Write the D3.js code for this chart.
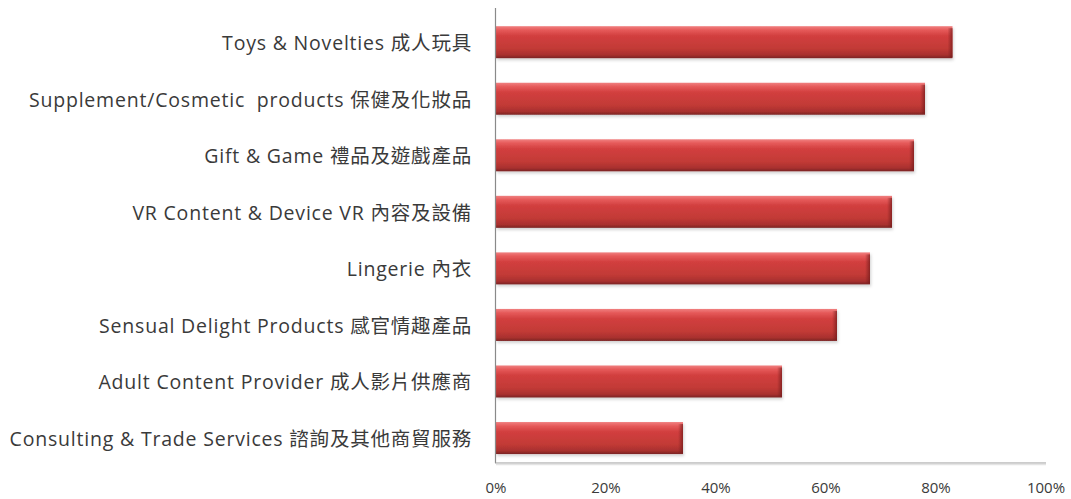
<!DOCTYPE html>
<html><head><meta charset="utf-8">
<script src="https://cdn.jsdelivr.net/npm/d3@7"></script>
<style>
html,body{margin:0;padding:0;background:#fff;}
svg{display:block;}
</style></head>
<body>
<svg id="chart" width="1071" height="499"></svg>
<script>
const categories = [
  "Toys & Novelties 成人玩具",
  "Supplement/Cosmetic  products 保健及化妝品",
  "Gift & Game 禮品及遊戲產品",
  "VR Content & Device VR 內容及設備",
  "Lingerie 內衣",
  "Sensual Delight Products 感官情趣產品",
  "Adult Content Provider 成人影片供應商",
  "Consulting & Trade Services 諮詢及其他商貿服務"
];
const values = [0.83, 0.78, 0.76, 0.72, 0.68, 0.62, 0.52, 0.34];
const tickValues = [0, 0.2, 0.4, 0.6, 0.8, 1.0];
const tickLabels = ["0%", "20%", "40%", "60%", "80%", "100%"];

const svg = d3.select("#chart");
const x0 = 496, x1 = 1046, yTop = 8, yBot = 463;
const x = d3.scaleLinear().domain([0, 1]).range([x0, x1]);
const y = d3.scaleBand().domain(categories).range([yTop, yBot])
  .paddingInner(0.434).paddingOuter(0.24).align(0.67);

const defs = svg.append("defs");
const g = defs.append("linearGradient").attr("id", "barGrad").attr("x1", 0).attr("y1", 0).attr("x2", 0).attr("y2", 1);
[[0, "#f08080"], [0.12, "#e65a5a"], [0.3, "#d23f3f"], [0.7, "#c23a36"], [0.9, "#a8302e"], [1, "#7a2424"]]
  .forEach(([o, c]) => g.append("stop").attr("offset", o).attr("stop-color", c));
const ge = defs.append("linearGradient").attr("id", "endGrad").attr("x1", 0).attr("y1", 0).attr("x2", 1).attr("y2", 0);
[[0, "rgba(120,30,30,0)"], [1, "rgba(110,25,25,0.7)"]]
  .forEach(([o, c]) => ge.append("stop").attr("offset", o).attr("stop-color", c));
const sh = defs.append("filter").attr("id", "shadow").attr("x", "-5%").attr("y", "-20%").attr("width", "110%").attr("height", "160%");
sh.append("feDropShadow").attr("dx", 1).attr("dy", 2).attr("stdDeviation", 1.5).attr("flood-color", "#000").attr("flood-opacity", 0.18);

// bars
const bars = svg.append("g").selectAll("g").data(categories).join("g");
bars.append("rect")
  .attr("x", x(0)).attr("y", d => y(d))
  .attr("width", (d, i) => x(values[i]) - x(0))
  .attr("height", y.bandwidth())
  .attr("fill", "url(#barGrad)")
  .attr("filter", "url(#shadow)");
bars.append("rect")
  .attr("x", (d, i) => x(values[i]) - 5).attr("y", d => y(d) + 2)
  .attr("width", 5)
  .attr("height", y.bandwidth() - 3)
  .attr("fill", "url(#endGrad)");

// axes
svg.append("line").attr("x1", x0 - 0.5).attr("x2", x0 - 0.5).attr("y1", yTop).attr("y2", yBot)
  .attr("stroke", "#8a8a8a").attr("stroke-width", 1.2);
svg.append("line").attr("x1", x0 - 1).attr("x2", x1).attr("y1", yBot).attr("y2", yBot)
  .attr("stroke", "#9a9a9a").attr("stroke-width", 1.2);
svg.append("line").attr("x1", x0).attr("x2", x1).attr("y1", yBot + 1.5).attr("y2", yBot + 1.5)
  .attr("stroke", "#e4e4e4").attr("stroke-width", 1.5);

// tick labels
svg.append("g").selectAll("text").data(tickValues).join("text")
  .attr("x", d => x(d)).attr("y", 493)
  .attr("text-anchor", "middle")
  .attr("font-family", "'Open Sans', 'Noto Sans', sans-serif")
  .attr("font-size", 15)
  .attr("fill", "#3a3a3a")
  .text((d, i) => tickLabels[i]);

// category labels
svg.append("g").selectAll("text").data(categories).join("text")
  .attr("x", 472)
  .attr("y", d => y(d) + y.bandwidth() / 2 + 1)
  .attr("dy", "0.35em")
  .attr("text-anchor", "end")
  .attr("font-family", "'Open Sans', 'Noto Sans CJK TC', sans-serif")
  .attr("font-size", 19.5)
  .attr("letter-spacing", "0.8px")
  .attr("fill", "#3a3a3a")
  .style("white-space", "pre")
  .text(d => d);
</script>
</body></html>
